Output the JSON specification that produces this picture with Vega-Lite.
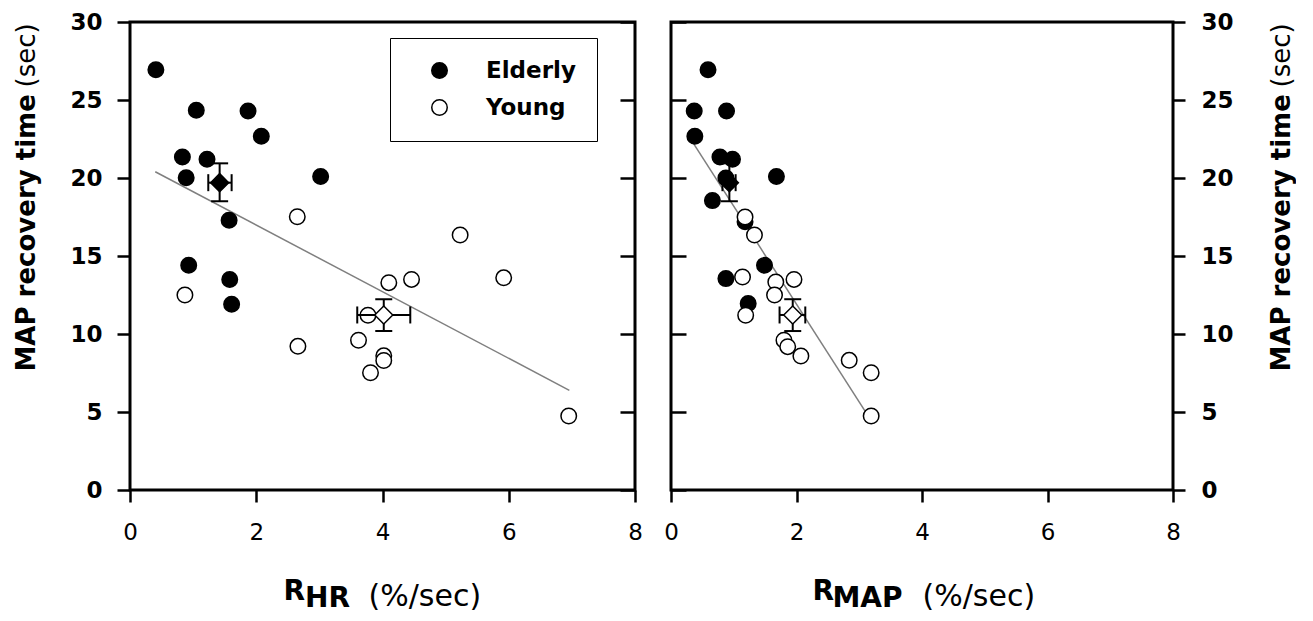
{
  "$schema": "https://vega.github.io/schema/vega-lite/v6.json",
  "background": "white",
  "padding": {"left": 11, "top": 9, "right": 0, "bottom": 0},
  "config": {
    "view": {"stroke": "black", "strokeWidth": 3},
    "axis": {"grid": false, "domain": false, "labelFont": "DejaVu Sans", "titleFont": "DejaVu Sans", "labelColor": "black", "titleColor": "black", "tickColor": "black", "tickWidth": 2.5, "labelFlush": false, "labelOverlap": false},
    "legend": {"labelFont": "DejaVu Sans", "labelColor": "black"}
  },
  "datasets": {
    "pts": [
      {"panel": "HR", "group": "Elderly", "r": 0.41, "t": 26.94},
      {"panel": "HR", "group": "Elderly", "r": 1.05, "t": 24.34},
      {"panel": "HR", "group": "Elderly", "r": 1.87, "t": 24.3},
      {"panel": "HR", "group": "Elderly", "r": 2.08, "t": 22.67},
      {"panel": "HR", "group": "Elderly", "r": 0.83, "t": 21.35},
      {"panel": "HR", "group": "Elderly", "r": 1.22, "t": 21.2},
      {"panel": "HR", "group": "Elderly", "r": 0.89, "t": 20.02},
      {"panel": "HR", "group": "Elderly", "r": 3.02, "t": 20.09},
      {"panel": "HR", "group": "Elderly", "r": 1.57, "t": 17.29},
      {"panel": "HR", "group": "Elderly", "r": 0.93, "t": 14.4},
      {"panel": "HR", "group": "Elderly", "r": 1.58, "t": 13.5},
      {"panel": "HR", "group": "Elderly", "r": 1.61, "t": 11.9},
      {"panel": "HR", "group": "Young", "r": 2.65, "t": 17.52},
      {"panel": "HR", "group": "Young", "r": 0.87, "t": 12.5},
      {"panel": "HR", "group": "Young", "r": 2.66, "t": 9.21},
      {"panel": "HR", "group": "Young", "r": 4.1, "t": 13.29},
      {"panel": "HR", "group": "Young", "r": 4.46, "t": 13.5},
      {"panel": "HR", "group": "Young", "r": 5.23, "t": 16.35},
      {"panel": "HR", "group": "Young", "r": 5.92, "t": 13.6},
      {"panel": "HR", "group": "Young", "r": 6.95, "t": 4.74},
      {"panel": "HR", "group": "Young", "r": 3.77, "t": 11.2},
      {"panel": "HR", "group": "Young", "r": 3.62, "t": 9.6},
      {"panel": "HR", "group": "Young", "r": 4.02, "t": 8.6},
      {"panel": "HR", "group": "Young", "r": 4.02, "t": 8.3},
      {"panel": "HR", "group": "Young", "r": 3.81, "t": 7.52},
      {"panel": "MAP", "group": "Elderly", "r": 0.59, "t": 26.94},
      {"panel": "MAP", "group": "Elderly", "r": 0.37, "t": 24.3},
      {"panel": "MAP", "group": "Elderly", "r": 0.885, "t": 24.3},
      {"panel": "MAP", "group": "Elderly", "r": 0.38, "t": 22.67},
      {"panel": "MAP", "group": "Elderly", "r": 0.78, "t": 21.35},
      {"panel": "MAP", "group": "Elderly", "r": 0.98, "t": 21.2},
      {"panel": "MAP", "group": "Elderly", "r": 0.875, "t": 20.0},
      {"panel": "MAP", "group": "Elderly", "r": 1.68, "t": 20.09},
      {"panel": "MAP", "group": "Elderly", "r": 0.66, "t": 18.55},
      {"panel": "MAP", "group": "Elderly", "r": 1.18, "t": 17.2},
      {"panel": "MAP", "group": "Elderly", "r": 1.49, "t": 14.4},
      {"panel": "MAP", "group": "Elderly", "r": 0.875, "t": 13.55},
      {"panel": "MAP", "group": "Elderly", "r": 1.23, "t": 11.95},
      {"panel": "MAP", "group": "Young", "r": 1.18, "t": 17.5},
      {"panel": "MAP", "group": "Young", "r": 1.33, "t": 16.35},
      {"panel": "MAP", "group": "Young", "r": 1.14, "t": 13.65},
      {"panel": "MAP", "group": "Young", "r": 1.67, "t": 13.33},
      {"panel": "MAP", "group": "Young", "r": 1.96, "t": 13.5},
      {"panel": "MAP", "group": "Young", "r": 1.65, "t": 12.5},
      {"panel": "MAP", "group": "Young", "r": 1.19, "t": 11.2},
      {"panel": "MAP", "group": "Young", "r": 1.8, "t": 9.6},
      {"panel": "MAP", "group": "Young", "r": 1.86, "t": 9.19},
      {"panel": "MAP", "group": "Young", "r": 2.07, "t": 8.59},
      {"panel": "MAP", "group": "Young", "r": 2.84, "t": 8.31},
      {"panel": "MAP", "group": "Young", "r": 3.19, "t": 7.52},
      {"panel": "MAP", "group": "Young", "r": 3.19, "t": 4.74}
    ],
    "means": [
      {"panel": "HR", "group": "Elderly", "mx": 1.42, "my": 19.7, "xlo": 1.24, "xhi": 1.61, "ylo": 18.51, "yhi": 20.94},
      {"panel": "HR", "group": "Young", "mx": 4.02, "my": 11.22, "xlo": 3.6, "xhi": 4.44, "ylo": 10.19, "yhi": 12.23},
      {"panel": "MAP", "group": "Elderly", "mx": 0.93, "my": 19.7, "xlo": 0.82, "xhi": 1.03, "ylo": 18.51, "yhi": 20.94},
      {"panel": "MAP", "group": "Young", "mx": 1.94, "my": 11.22, "xlo": 1.73, "xhi": 2.14, "ylo": 10.19, "yhi": 12.23}
    ],
    "fits": [
      {"panel": "HR", "r": 0.4, "t": 20.4},
      {"panel": "HR", "r": 6.96, "t": 6.39},
      {"panel": "MAP", "r": 0.36, "t": 22.2},
      {"panel": "MAP", "r": 3.19, "t": 4.45}
    ]
  },
  "resolve": {"scale": {"fill": "independent"}, "legend": {"fill": "independent"}},
  "spacing": 18,
  "hconcat": [
    {
      "width": 505,
      "height": 468,
      "resolve": {"axis": {"x": "independent", "y": "independent"}},
      "layer": [
        {
          "data": {"name": "fits"},
          "transform": [{"filter": "datum.panel === 'HR'"}],
          "mark": {"type": "line", "color": "#7f7f7f", "strokeWidth": 1.5},
          "encoding": {
            "x": {"field": "r", "type": "quantitative", "scale": {"domain": [0, 8], "nice": false},
              "axis": {"orient": "bottom", "values": [0, 2, 4, 6, 8], "tickSize": 12, "labelFontSize": 23, "labelFontWeight": "normal", "labelPadding": 19,
                "title": "R", "titleFontSize": 28, "titleFontWeight": "bold", "titleAlign": "left", "titleBaseline": "alphabetic", "titleX": 153, "titleY": 109}},
            "y": {"field": "t", "type": "quantitative", "scale": {"domain": [0, 30], "nice": false},
              "axis": {"orient": "left", "values": [0, 5, 10, 15, 20, 25, 30], "tickSize": 13, "labelFontSize": 23, "labelFontWeight": "bold", "labelPadding": 15,
                "title": "MAP recovery time", "titleFontSize": 26, "titleFontWeight": "bold", "titleAngle": 270, "titleAlign": "left", "titleBaseline": "alphabetic", "titleX": -96, "titleY": 349}}
          }
        },
        {
          "data": {"name": "pts"},
          "transform": [{"filter": "datum.panel === 'HR'"}],
          "mark": {"type": "point", "shape": "circle", "filled": true, "stroke": "black", "strokeWidth": 1.5, "size": 240, "opacity": 1},
          "encoding": {
            "x": {"field": "r", "type": "quantitative", "scale": {"domain": [0, 8], "nice": false}, "axis": null},
            "y": {"field": "t", "type": "quantitative", "scale": {"domain": [0, 30], "nice": false}, "axis": null},
            "fill": {"field": "group", "type": "nominal", "scale": {"domain": ["Elderly", "Young"], "range": ["black", "white"]},
              "legend": {"orient": "none", "legendX": 260, "legendY": 16, "title": null, "strokeColor": "black", "padding": 21,
                "symbolType": "circle", "symbolSize": 240, "symbolStrokeColor": "black", "symbolStrokeWidth": 1.5, "symbolOffset": 17,
                "labelOffset": 35, "labelFontSize": 23, "labelFontWeight": "bold", "rowPadding": 13}}
          }
        },
        {
          "data": {"name": "means"},
          "transform": [{"filter": "datum.panel === 'HR'"}],
          "mark": {"type": "rule", "color": "black", "strokeWidth": 2},
          "encoding": {
            "x": {"field": "mx", "type": "quantitative", "scale": {"domain": [0, 8], "nice": false},
              "axis": {"orient": "bottom", "labels": false, "ticks": false, "domain": false, "title": "HR", "titleFontSize": 28, "titleFontWeight": "bold", "titleAlign": "left", "titleBaseline": "alphabetic", "titleX": 174.6, "titleY": 116.5}},
            "y": {"field": "ylo", "type": "quantitative", "scale": {"domain": [0, 30], "nice": false},
              "axis": {"orient": "right", "values": [0, 5, 10, 15, 20, 25, 30], "labels": false, "tickSize": -15, "title": null}},
            "y2": {"field": "yhi"}
          }
        },
        {
          "data": {"name": "means"},
          "transform": [{"filter": "datum.panel === 'HR'"}],
          "mark": {"type": "rule", "color": "black", "strokeWidth": 2},
          "encoding": {
            "y": {"field": "my", "type": "quantitative", "scale": {"domain": [0, 30], "nice": false},
              "axis": {"orient": "left", "labels": false, "ticks": false, "domain": false, "title": "(sec)", "titleFontSize": 26, "titleFontWeight": "normal", "titleAngle": 270, "titleAlign": "left", "titleBaseline": "alphabetic", "titleX": -96, "titleY": 65}},
            "x": {"field": "xlo", "type": "quantitative", "scale": {"domain": [0, 8], "nice": false},
              "axis": {"orient": "bottom", "labels": false, "ticks": false, "domain": false, "title": "(%/sec)", "titleFontSize": 30, "titleFontWeight": "normal", "titleAlign": "left", "titleBaseline": "alphabetic", "titleX": 238, "titleY": 115}},
            "x2": {"field": "xhi"}
          }
        },
        {
          "data": {"name": "means"},
          "transform": [{"filter": "datum.panel === 'HR'"}],
          "mark": {"type": "tick", "orient": "horizontal", "size": 17, "thickness": 2, "color": "black", "opacity": 1},
          "encoding": {
            "x": {"field": "mx", "type": "quantitative", "scale": {"domain": [0, 8], "nice": false}, "axis": null},
            "y": {"field": "ylo", "type": "quantitative", "scale": {"domain": [0, 30], "nice": false}, "axis": null}
          }
        },
        {
          "data": {"name": "means"},
          "transform": [{"filter": "datum.panel === 'HR'"}],
          "mark": {"type": "tick", "orient": "horizontal", "size": 17, "thickness": 2, "color": "black", "opacity": 1},
          "encoding": {
            "x": {"field": "mx", "type": "quantitative", "scale": {"domain": [0, 8], "nice": false}, "axis": null},
            "y": {"field": "yhi", "type": "quantitative", "scale": {"domain": [0, 30], "nice": false}, "axis": null}
          }
        },
        {
          "data": {"name": "means"},
          "transform": [{"filter": "datum.panel === 'HR'"}],
          "mark": {"type": "tick", "orient": "vertical", "size": 17, "thickness": 2, "color": "black", "opacity": 1},
          "encoding": {
            "x": {"field": "xlo", "type": "quantitative", "scale": {"domain": [0, 8], "nice": false}, "axis": null},
            "y": {"field": "my", "type": "quantitative", "scale": {"domain": [0, 30], "nice": false}, "axis": null}
          }
        },
        {
          "data": {"name": "means"},
          "transform": [{"filter": "datum.panel === 'HR'"}],
          "mark": {"type": "tick", "orient": "vertical", "size": 17, "thickness": 2, "color": "black", "opacity": 1},
          "encoding": {
            "x": {"field": "xhi", "type": "quantitative", "scale": {"domain": [0, 8], "nice": false}, "axis": null},
            "y": {"field": "my", "type": "quantitative", "scale": {"domain": [0, 30], "nice": false}, "axis": null}
          }
        },
        {
          "data": {"name": "means"},
          "transform": [{"filter": "datum.panel === 'HR' && datum.group === 'Elderly'"}],
          "mark": {"type": "point", "shape": "diamond", "filled": true, "fill": "black", "stroke": "black", "strokeWidth": 1.5, "size": 324, "opacity": 1},
          "encoding": {
            "x": {"field": "mx", "type": "quantitative", "scale": {"domain": [0, 8], "nice": false}, "axis": null},
            "y": {"field": "my", "type": "quantitative", "scale": {"domain": [0, 30], "nice": false}, "axis": null}
          }
        },
        {
          "data": {"name": "means"},
          "transform": [{"filter": "datum.panel === 'HR' && datum.group === 'Young'"}],
          "mark": {"type": "point", "shape": "diamond", "filled": true, "fill": "white", "stroke": "black", "strokeWidth": 1.5, "size": 324, "opacity": 1},
          "encoding": {
            "x": {"field": "mx", "type": "quantitative", "scale": {"domain": [0, 8], "nice": false}, "axis": null},
            "y": {"field": "my", "type": "quantitative", "scale": {"domain": [0, 30], "nice": false}, "axis": null}
          }
        }
      ]
    },
    {
      "width": 502,
      "height": 468,
      "resolve": {"axis": {"x": "independent", "y": "independent"}},
      "layer": [
        {
          "data": {"name": "fits"},
          "transform": [{"filter": "datum.panel === 'MAP'"}],
          "mark": {"type": "line", "color": "#7f7f7f", "strokeWidth": 1.5},
          "encoding": {
            "x": {"field": "r", "type": "quantitative", "scale": {"domain": [0, 8], "nice": false},
              "axis": {"orient": "bottom", "values": [0, 2, 4, 6, 8], "tickSize": 12, "labelFontSize": 23, "labelFontWeight": "normal", "labelPadding": 19,
                "title": "R", "titleFontSize": 28, "titleFontWeight": "bold", "titleAlign": "left", "titleBaseline": "alphabetic", "titleX": 141, "titleY": 109}},
            "y": {"field": "t", "type": "quantitative", "scale": {"domain": [0, 30], "nice": false},
              "axis": {"orient": "right", "values": [0, 5, 10, 15, 20, 25, 30], "tickSize": 12, "labelFontSize": 23, "labelFontWeight": "bold", "labelPadding": 16,
                "title": "MAP recovery time", "titleFontSize": 26, "titleFontWeight": "bold", "titleAngle": 270, "titleAlign": "left", "titleBaseline": "alphabetic", "titleX": 116, "titleY": 349}}
          }
        },
        {
          "data": {"name": "pts"},
          "transform": [{"filter": "datum.panel === 'MAP'"}],
          "mark": {"type": "point", "shape": "circle", "filled": true, "stroke": "black", "strokeWidth": 1.5, "size": 240, "opacity": 1},
          "encoding": {
            "x": {"field": "r", "type": "quantitative", "scale": {"domain": [0, 8], "nice": false}, "axis": null},
            "y": {"field": "t", "type": "quantitative", "scale": {"domain": [0, 30], "nice": false}, "axis": null},
            "fill": {"field": "group", "type": "nominal", "scale": {"domain": ["Elderly", "Young"], "range": ["black", "white"]}, "legend": null}
          }
        },
        {
          "data": {"name": "means"},
          "transform": [{"filter": "datum.panel === 'MAP'"}],
          "mark": {"type": "rule", "color": "black", "strokeWidth": 2},
          "encoding": {
            "x": {"field": "mx", "type": "quantitative", "scale": {"domain": [0, 8], "nice": false},
              "axis": {"orient": "bottom", "labels": false, "ticks": false, "domain": false, "title": "MAP", "titleFontSize": 28, "titleFontWeight": "bold", "titleAlign": "left", "titleBaseline": "alphabetic", "titleX": 161, "titleY": 116.5}},
            "y": {"field": "ylo", "type": "quantitative", "scale": {"domain": [0, 30], "nice": false},
              "axis": {"orient": "left", "values": [0, 5, 10, 15, 20, 25, 30], "labels": false, "tickSize": -15, "title": null}},
            "y2": {"field": "yhi"}
          }
        },
        {
          "data": {"name": "means"},
          "transform": [{"filter": "datum.panel === 'MAP'"}],
          "mark": {"type": "rule", "color": "black", "strokeWidth": 2},
          "encoding": {
            "y": {"field": "my", "type": "quantitative", "scale": {"domain": [0, 30], "nice": false},
              "axis": {"orient": "right", "labels": false, "ticks": false, "domain": false, "title": "(sec)", "titleFontSize": 26, "titleFontWeight": "normal", "titleAngle": 270, "titleAlign": "left", "titleBaseline": "alphabetic", "titleX": 116, "titleY": 65}},
            "x": {"field": "xlo", "type": "quantitative", "scale": {"domain": [0, 8], "nice": false},
              "axis": {"orient": "bottom", "labels": false, "ticks": false, "domain": false, "title": "(%/sec)", "titleFontSize": 30, "titleFontWeight": "normal", "titleAlign": "left", "titleBaseline": "alphabetic", "titleX": 251, "titleY": 115}},
            "x2": {"field": "xhi"}
          }
        },
        {
          "data": {"name": "means"},
          "transform": [{"filter": "datum.panel === 'MAP'"}],
          "mark": {"type": "tick", "orient": "horizontal", "size": 17, "thickness": 2, "color": "black", "opacity": 1},
          "encoding": {
            "x": {"field": "mx", "type": "quantitative", "scale": {"domain": [0, 8], "nice": false}, "axis": null},
            "y": {"field": "ylo", "type": "quantitative", "scale": {"domain": [0, 30], "nice": false}, "axis": null}
          }
        },
        {
          "data": {"name": "means"},
          "transform": [{"filter": "datum.panel === 'MAP'"}],
          "mark": {"type": "tick", "orient": "horizontal", "size": 17, "thickness": 2, "color": "black", "opacity": 1},
          "encoding": {
            "x": {"field": "mx", "type": "quantitative", "scale": {"domain": [0, 8], "nice": false}, "axis": null},
            "y": {"field": "yhi", "type": "quantitative", "scale": {"domain": [0, 30], "nice": false}, "axis": null}
          }
        },
        {
          "data": {"name": "means"},
          "transform": [{"filter": "datum.panel === 'MAP'"}],
          "mark": {"type": "tick", "orient": "vertical", "size": 17, "thickness": 2, "color": "black", "opacity": 1},
          "encoding": {
            "x": {"field": "xlo", "type": "quantitative", "scale": {"domain": [0, 8], "nice": false}, "axis": null},
            "y": {"field": "my", "type": "quantitative", "scale": {"domain": [0, 30], "nice": false}, "axis": null}
          }
        },
        {
          "data": {"name": "means"},
          "transform": [{"filter": "datum.panel === 'MAP'"}],
          "mark": {"type": "tick", "orient": "vertical", "size": 17, "thickness": 2, "color": "black", "opacity": 1},
          "encoding": {
            "x": {"field": "xhi", "type": "quantitative", "scale": {"domain": [0, 8], "nice": false}, "axis": null},
            "y": {"field": "my", "type": "quantitative", "scale": {"domain": [0, 30], "nice": false}, "axis": null}
          }
        },
        {
          "data": {"name": "means"},
          "transform": [{"filter": "datum.panel === 'MAP' && datum.group === 'Elderly'"}],
          "mark": {"type": "point", "shape": "diamond", "filled": true, "fill": "black", "stroke": "black", "strokeWidth": 1.5, "size": 324, "opacity": 1},
          "encoding": {
            "x": {"field": "mx", "type": "quantitative", "scale": {"domain": [0, 8], "nice": false}, "axis": null},
            "y": {"field": "my", "type": "quantitative", "scale": {"domain": [0, 30], "nice": false}, "axis": null}
          }
        },
        {
          "data": {"name": "means"},
          "transform": [{"filter": "datum.panel === 'MAP' && datum.group === 'Young'"}],
          "mark": {"type": "point", "shape": "diamond", "filled": true, "fill": "white", "stroke": "black", "strokeWidth": 1.5, "size": 324, "opacity": 1},
          "encoding": {
            "x": {"field": "mx", "type": "quantitative", "scale": {"domain": [0, 8], "nice": false}, "axis": null},
            "y": {"field": "my", "type": "quantitative", "scale": {"domain": [0, 30], "nice": false}, "axis": null}
          }
        }
      ]
    }
  ]
}
